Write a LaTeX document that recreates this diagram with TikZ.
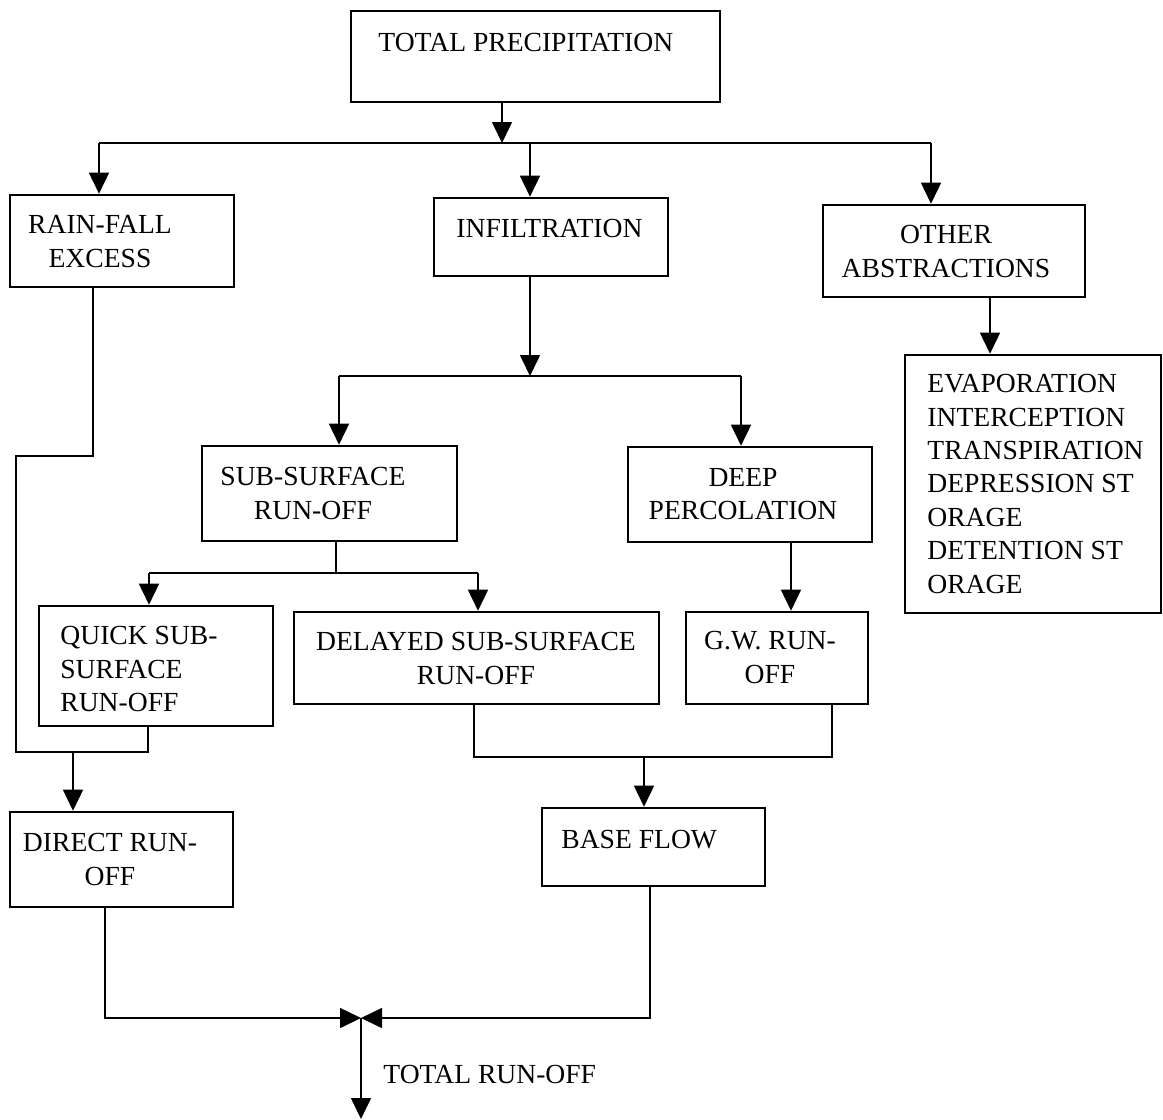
\documentclass[tikz,border=0pt]{standalone}
\usepackage{fontspec}
\setmainfont{Liberation Serif}
\usepackage{tikz}
\usetikzlibrary{arrows.meta, positioning, fit}

\begin{document}
\begin{tikzpicture}[x=0.5pt, y=-0.5pt,
  box/.style={draw, line width=1.3pt, inner sep=0pt},
  lbl/.style={font=\fontsize{13.8}{16.7}\selectfont, inner sep=0pt, align=center, anchor=north, yshift=-1pt},
  lbll/.style={lbl, align=left, anchor=north west},
  flow/.style={line width=0.8pt},
  arr/.style={flow, -{Triangle[length=10.5pt, width=10pt]}}]
  \useasboundingbox (0,0) rectangle (1163,1120);

  % Boxes
  \node[box, fit={(351,11) (720,102)}] (tp) {};
  \node[box, fit={(10,195) (234,287)}] (rain) {};
  \node[box, fit={(434,198) (668,276)}] (inf) {};
  \node[box, fit={(823,205) (1085,297)}] (oth) {};
  \node[box, fit={(905,355) (1161,613)}] (evap) {};
  \node[box, fit={(202,446) (457,541)}] (sub) {};
  \node[box, fit={(628,447) (872,542)}] (deep) {};
  \node[box, fit={(39,606) (273,726)}] (quick) {};
  \node[box, fit={(294,612) (659,704)}] (del) {};
  \node[box, fit={(686,612) (868,704)}] (gw) {};
  \node[box, fit={(10,812) (233,907)}] (direct) {};
  \node[box, fit={(542,808) (765,886)}] (base) {};

  % Texts
  \node[lbll] (tp-t) at (378,31) {TOTAL PRECIPITATION};
  \node[lbl] (rain-t) at (100,213) {RAIN-FALL\\EXCESS};
  \node[lbll] (inf-t) at (456,217) {INFILTRATION};
  \node[lbl] (oth-t) at (946,223) {OTHER\\ABSTRACTIONS};
  \node[lbll] (evap-t) at (927,372) {EVAPORATION\\INTERCEPTION\\TRANSPIRATION\\DEPRESSION ST\\ORAGE\\DETENTION ST\\ORAGE};
  \node[lbl] (sub-t) at (313,465) {SUB-SURFACE\\RUN-OFF};
  \node[lbl] (deep-t) at (743,466) {DEEP\\PERCOLATION};
  \node[lbll] (quick-t) at (60,624) {QUICK SUB-\\SURFACE\\RUN-OFF};
  \node[lbl] (del-t) at (476,630) {DELAYED SUB-SURFACE\\RUN-OFF};
  \node[lbl] (gw-t) at (770,629) {G.W. RUN-\\OFF};
  \node[lbl] (direct-t) at (110,831) {DIRECT RUN-\\OFF};
  \node[lbll] (base-t) at (561,828) {BASE FLOW};
  \node[lbll] (total-t) at (383,1063) {TOTAL RUN-OFF};

  % Junction points
  \coordinate (j0) at (502,143);
  \coordinate (b1) at (99,143);
  \coordinate (b2) at (530,143);
  \coordinate (b3) at (931,143);
  \coordinate (j1) at (530,376);
  \coordinate (c1) at (339,376);
  \coordinate (c2) at (741,376);
  \coordinate (e1) at (990,0);
  \coordinate (j2) at (336,573);
  \coordinate (q1) at (149,573);
  \coordinate (q2) at (478,573);
  \coordinate (g1) at (791,0);
  \coordinate (r1) at (93,456);
  \coordinate (r3) at (16,752);
  \coordinate (r4) at (148,752);
  \coordinate (a1) at (73,752);
  \coordinate (k1) at (474,757);
  \coordinate (k2) at (832,757);
  \coordinate (k3) at (644,757);
  \coordinate (m1) at (105,1018);
  \coordinate (m2) at (650,1018);
  \coordinate (t0) at (361,1018);
  \coordinate (t1) at (361,1119);

  % First split
  \draw[arr] (j0 |- tp.south) -- (j0);
  \draw[flow] (b1) -- (b3);
  \draw[arr] (b1) -- (b1 |- rain.north);
  \draw[arr] (b2) -- (b2 |- inf.north);
  \draw[arr] (b3) -- (b3 |- oth.north);
  \draw[arr] (e1 |- oth.south) -- (e1 |- evap.north);

  % Infiltration split
  \draw[arr] (j1 |- inf.south) -- (j1);
  \draw[flow] (c1) -- (c2);
  \draw[arr] (c1) -- (c1 |- sub.north);
  \draw[arr] (c2) -- (c2 |- deep.north);

  % Sub-surface split
  \draw[flow] (j2 |- sub.south) -- (j2);
  \draw[flow] (q1) -- (q2);
  \draw[arr] (q1) -- (q1 |- quick.north);
  \draw[arr] (q2) -- (q2 |- del.north);
  \draw[arr] (g1 |- deep.south) -- (g1 |- gw.north);

  % Direct run-off
  \draw[flow] (r1 |- rain.south) -- (r1) -| (r3) -- (r4) -- (r4 |- quick.south);
  \draw[arr] (a1) -- (a1 |- direct.north);

  % Base flow
  \draw[flow] (k1 |- del.south) -- (k1) -- (k2) -- (k2 |- gw.south);
  \draw[arr] (k3) -- (k3 |- base.north);

  % Total run-off
  \draw[arr] (m1 |- direct.south) -- (m1) -- (t0);
  \draw[arr] (m2 |- base.south) -- (m2) -- (t0);
  \draw[arr] (t0) -- (t1);
\end{tikzpicture}
\end{document}
